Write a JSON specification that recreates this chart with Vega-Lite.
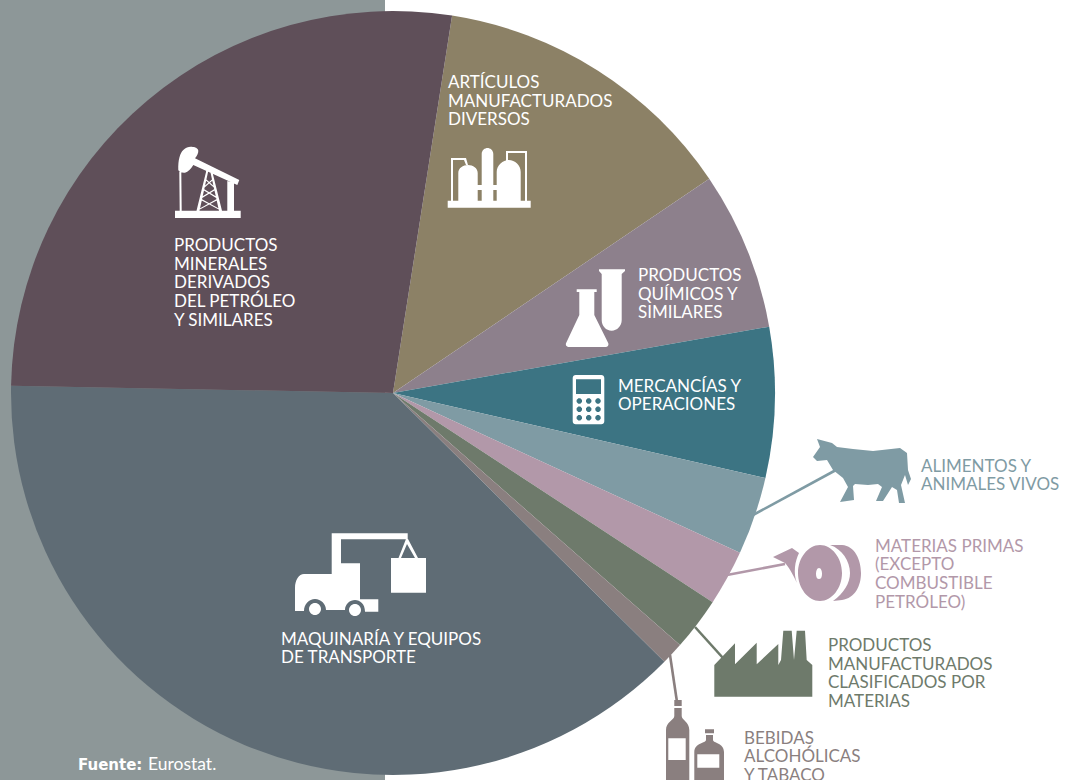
{"$schema":"https://vega.github.io/schema/vega-lite/v6.json","width":1065,"height":780,"autosize":"none","padding":0,"background":"white","config":{"view":{"stroke":null}},
"datasets":{
"panel":[{"x":0,"x2":385,"y":0,"y2":780}],
"slices":[
{"cat":"Artículos manufacturados diversos","share":13.05,"rank":1},
{"cat":"Productos químicos y similares","share":6.7,"rank":2},
{"cat":"Mercancías y operaciones","share":6.35,"rank":3},
{"cat":"Alimentos y animales vivos","share":3.3,"rank":4},
{"cat":"Materias primas","share":2.35,"rank":5},
{"cat":"Productos manufacturados","share":2.25,"rank":6},
{"cat":"Bebidas y tabaco","share":0.95,"rank":7},
{"cat":"Maquinaria y equipos de transporte","share":37.88,"rank":8},
{"cat":"Productos minerales","share":27.17,"rank":9}],
"leaders":[
{"cat":"Alimentos y animales vivos","x":753,"y":515,"x2":836,"y2":470},
{"cat":"Materias primas","x":727,"y":575,"x2":785,"y2":564},
{"cat":"Productos manufacturados","x":695,"y":627,"x2":723,"y2":658},
{"cat":"Bebidas y tabaco","x":670,"y":655,"x2":677,"y2":702}],
"insideLabels":[
{"label":"PRODUCTOS\nMINERALES\nDERIVADOS\nDEL PETRÓLEO\nY SIMILARES","x":174,"y":251},
{"label":"ARTÍCULOS\nMANUFACTURADOS\nDIVERSOS","x":448,"y":88},
{"label":"PRODUCTOS\nQUÍMICOS Y\nSIMILARES","x":638,"y":281},
{"label":"MERCANCÍAS Y\nOPERACIONES","x":618,"y":391.5},
{"label":"MAQUINARÍA Y EQUIPOS\nDE TRANSPORTE","x":281,"y":644.5}],
"outsideLabels":[
{"cat":"Alimentos y animales vivos","label":"ALIMENTOS Y\nANIMALES VIVOS","x":921,"y":471.5},
{"cat":"Materias primas","label":"MATERIAS PRIMAS\n(EXCEPTO\nCOMBUSTIBLE\nPETRÓLEO)","x":875,"y":551.5},
{"cat":"Productos manufacturados","label":"PRODUCTOS\nMANUFACTURADOS\nCLASIFICADOS POR\nMATERIAS","x":828,"y":651},
{"cat":"Bebidas y tabaco","label":"BEBIDAS\nALCOHÓLICAS\nY TABACO","x":744,"y":743.5}],
"insideIcons":[
{"icon":"pump","x":208,"y":180},
{"icon":"refinery","x":490,"y":180},
{"icon":"flask","x":595,"y":310},
{"icon":"calculator","x":589,"y":400},
{"icon":"truck","x":360,"y":580}],
"outsideIcons":[
{"icon":"cow","cat":"Alimentos y animales vivos","x":860,"y":475},
{"icon":"roll","cat":"Materias primas","x":820,"y":573},
{"icon":"factory","cat":"Productos manufacturados","x":763,"y":665},
{"icon":"bottleA","cat":"Bebidas y tabaco","x":678,"y":740},
{"icon":"bottleB","cat":"Bebidas y tabaco","x":709,"y":760}],
"sourceA":[{"label":"Fuente:","x":78,"y":770}],
"sourceB":[{"label":"Eurostat.","x":148,"y":770}]
},
"layer":[
{"data":{"name":"panel"},"mark":{"type":"rect","color":"#8d9798"},"encoding":{
"x":{"field":"x","type":"quantitative","axis":null,"scale":{"domain":[0,1065],"nice":false,"zero":false}},
"x2":{"field":"x2"},
"y":{"field":"y","type":"quantitative","axis":null,"scale":{"domain":[0,780],"nice":false,"zero":false,"reverse":true}},
"y2":{"field":"y2"}}},
{"data":{"name":"leaders"},"mark":{"type":"rule","strokeWidth":2.6},"encoding":{
"x":{"field":"x","type":"quantitative","axis":null,"scale":{"domain":[0,1065],"nice":false,"zero":false}},
"x2":{"field":"x2"},
"y":{"field":"y","type":"quantitative","axis":null,"scale":{"domain":[0,780],"nice":false,"zero":false,"reverse":true}},
"y2":{"field":"y2"},
"color":{"field":"cat","type":"nominal","legend":null,"scale":{"domain":["Artículos manufacturados diversos","Productos químicos y similares","Mercancías y operaciones","Alimentos y animales vivos","Materias primas","Productos manufacturados","Bebidas y tabaco","Maquinaria y equipos de transporte","Productos minerales"],"range":["#8c8166","#8d808c","#3c7483","#7f9ba4","#b298a9","#6e7a6b","#8a7f7f","#5f6c75","#5f4f59"]}}}},
{"data":{"name":"slices"},"mark":{"type":"arc","outerRadius":382,"innerRadius":0},"encoding":{
"x":{"datum":393,"type":"quantitative","axis":null,"scale":{"domain":[0,1065],"nice":false,"zero":false}},
"y":{"datum":393,"type":"quantitative","axis":null,"scale":{"domain":[0,780],"nice":false,"zero":false,"reverse":true}},
"theta":{"field":"share","type":"quantitative","stack":true,"scale":{"domain":[0,100],"range":[0.1553,6.4385]}},
"order":{"field":"rank","type":"quantitative"},
"color":{"field":"cat","type":"nominal","legend":null,"scale":{"domain":["Artículos manufacturados diversos","Productos químicos y similares","Mercancías y operaciones","Alimentos y animales vivos","Materias primas","Productos manufacturados","Bebidas y tabaco","Maquinaria y equipos de transporte","Productos minerales"],"range":["#8c8166","#8d808c","#3c7483","#7f9ba4","#b298a9","#6e7a6b","#8a7f7f","#5f6c75","#5f4f59"]}}}},
{"data":{"name":"insideIcons"},"mark":{"type":"point","filled":true,"size":4,"opacity":1,"color":"white"},"encoding":{
"x":{"field":"x","type":"quantitative","axis":null,"scale":{"domain":[0,1065],"nice":false,"zero":false}},
"y":{"field":"y","type":"quantitative","axis":null,"scale":{"domain":[0,780],"nice":false,"zero":false,"reverse":true}},
"shape":{"field":"icon","type":"nominal","legend":null,"scale":{"domain":["pump","refinery","flask","calculator","truck","cow","roll","factory","bottleA","bottleB"],"range":[
"M-33,30.7 L32.7,30.7 L32.7,38 L-33,38 Z M-29.7,-10 C-30,-20 -28,-27 -24.7,-30 C-22,-33 -19,-33.5 -16.3,-33.3 C-13,-33 -10,-32 -9.7,-29.3 C-9.5,-27 -11,-24 -13,-21.7 L31.3,0 L29.3,5 L-14.7,-15 C-17,-11 -20,-8 -23,-7.3 C-26,-7 -29,-8 -29.7,-10 Z M-28.7,-8 L-26.7,-8 L-26.3,31 L-28.3,31 Z M19.3,1 L26,3 L26,31 L19.3,31 Z M-1.5,-10 L0.5,-10 L-8.5,30.7 L-11.5,30.7 Z M1.9,-10 L3.9,-10 L14,30.7 L11,30.7 Z M-3.3,-2 L8.1,8 L8.1,9.4 L-3.3,-0.6 Z M-5.7,8 L5.7,-2 L5.7,-0.6 L-5.7,9.4 Z M-5.7,8 L10.6,18 L10.6,19.4 L-5.7,9.4 Z M-8.2,18 L8.1,8 L8.1,9.4 L-8.2,19.4 Z M-8.2,18 L13.5,30 L13.5,31 L-8.2,19.4 Z M-11,30 L10.6,18 L10.6,19.4 L-11,31 Z M-2,-10 L4.4,-10 L4.4,-8.5 L-2,-8.5 Z",
"M-42.3,20.7 L40.7,20.7 L40.7,27.7 L-42.3,27.7 Z M-31.7,21 L-31.7,-7 C-31.7,-12 -27,-15 -22,-15 C-17,-15 -12.3,-12 -12.3,-7 L-12.3,21 Z M-8.3,21 L-8.3,-26 C-8.3,-30 -5,-32 -2.5,-32 C0,-32 3.3,-30 3.3,-26 L3.3,21 Z M6.7,21 L6.7,-8 C6.7,-15 13,-20 18.7,-20 C25,-20 30.7,-15 30.7,-8 L30.7,21 Z M-13,5 L7,5 L7,10 L-13,10 Z M-39,21 L-39,-22 L-24,-22 L-22,-15 L-24,-15 L-26,-20 L-37,-20 L-37,21 Z M16,-19 L16,-29 L37,-29 L37,21 L35,21 L35,-27 L18,-27 L18,-19 Z",
"M-18.3,-20.7 L1.7,-20.7 L1.7,-18 L-0.7,-18 L-0.7,5 L13.3,33.3 C14,35.5 12.5,37 10.7,37 L-26,37 C-28,37 -29.7,35.5 -29,33.3 L-15.7,5 L-15.7,-18 L-18.3,-18 Z M4,-40.7 L30,-40.7 L30,-39 L26.7,-36 L26.7,10 C26.7,16 22,20.7 16.7,20.7 C11,20.7 6.7,16 6.7,10 L6.7,-36 L4,-39 Z",
"M-13.3,-25 L12.3,-25 C14,-25 15.3,-23.7 15.3,-22 L15.3,21.3 C15.3,23 14,24.3 12.3,24.3 L-13.3,24.3 C-15,24.3 -16.3,23 -16.3,21.3 L-16.3,-22 C-16.3,-23.7 -15,-25 -13.3,-25 Z M-13,-20.7 L-13,-6 L12,-6 L12,-20.7 Z M-10.7,-1.7 L-12.4,0 L-12.4,2 L-10.7,3.7 L-8.7,3.7 L-7,2 L-7,0 L-8.7,-1.7 Z M-1.3,-1.7 L-3,0 L-3,2 L-1.3,3.7 L0.7,3.7 L2.4,2 L2.4,0 L0.7,-1.7 Z M8,-1.7 L6.3,0 L6.3,2 L8,3.7 L10,3.7 L11.7,2 L11.7,0 L10,-1.7 Z M-10.7,6.6 L-12.4,8.3 L-12.4,10.3 L-10.7,12 L-8.7,12 L-7,10.3 L-7,8.3 L-8.7,6.6 Z M-1.3,6.6 L-3,8.3 L-3,10.3 L-1.3,12 L0.7,12 L2.4,10.3 L2.4,8.3 L0.7,6.6 Z M8,6.6 L6.3,8.3 L6.3,10.3 L8,12 L10,12 L11.7,10.3 L11.7,8.3 L10,6.6 Z M-10.7,15 L-12.4,16.7 L-12.4,18.7 L-10.7,20.4 L-8.7,20.4 L-7,18.7 L-7,16.7 L-8.7,15 Z M-1.3,15 L-3,16.7 L-3,18.7 L-1.3,20.4 L0.7,20.4 L2.4,18.7 L2.4,16.7 L0.7,15 Z M8,15 L6.3,16.7 L6.3,18.7 L8,20.4 L10,20.4 L11.7,18.7 L11.7,16.7 L10,15 Z",
"M-28.3,-46.7 L47.7,-46.7 L47.7,-40.7 L-19,-40.7 L-19,-16.7 L0,-16.7 L0,19.3 L18.3,19.3 L18.3,31.7 L5,31.7 C5,24 0,20 -5,20 C-10,20 -15,24 -15,30 L-34,30 C-34,24 -39,19 -45,19 C-51,19 -56,24 -56,31 L-65,31 L-65,8 C-65,0 -61,-6 -56,-6 L-28.3,-6 Z M-5,24 C-1.7,24 1,26.7 1,30 C1,33.3 -1.7,36 -5,36 C-8.3,36 -11,33.3 -11,30 C-11,26.7 -8.3,24 -5,24 Z M-45,23 C-41.7,23 -39,25.7 -39,29 C-39,32.3 -41.7,35 -45,35 C-48.3,35 -51,32.3 -51,29 C-51,25.7 -48.3,23 -45,23 Z M31,-22 L66,-22 L66,12.7 L31,12.7 Z M46,-41 L48,-41 L58,-22 L55,-22 L47,-36 L41,-22 L38.5,-22 Z",
"M-43,-36 L-28,-32 L-23,-28 L-7,-26 L13,-24 L40,-27 L47,-22 L48,-5 L51,4 L48,10 L45,0 L41,10 L45,28 L39,28 L37,15 L32,12 L23,26 L16,26 L22,12 L18,9 L8,10 L-5,9 L-7,11 L-6,25 L-20,27 L-12,12 L-17,3 L-27,-5 L-33,-15 L-43,-14 L-47,-18 L-40,-28 Z",
"M0,-28 C12,-28 22,-15 22,0 C22,15 12,28 0,28 C-12,28 -22,15 -22,0 C-22,-15 -12,-28 0,-28 Z M-1,-5 C-3,-5 -4,-2 -4,1 C-4,4 -3,6 -1,6 C1,6 2,4 2,1 C2,-2 1,-5 -1,-5 Z M10,-28 L22,-28 C35,-27 41,-13 41,0 C41,13 35,25 22,27 L13,28 C24,20 30,10 30,0 C30,-12 22,-24 10,-28 Z M-47,-16 L-28,-25 L-21,-20 C-25,-12 -27,0 -23,10 C-27,2 -31,-6 -35,-10 Z",
"M-48.7,31.7 L-48.7,0 L-28,-21.7 L-28,-0.7 L-6.3,-22.3 L-6.3,-0.7 L15.3,-21 L15.3,0 L18,-5 L20.3,-34.3 L28.7,-34.3 L31,-5 L33.7,-34.3 L42,-34.3 L43.7,-5 L49.3,0 L49.3,31.7 Z",
"M-3.7,-40 L3.7,-40 L3.7,-34 L-3.7,-34 Z M-3.7,-32 L3.7,-32 L3.7,-24 C3.7,-20 11.3,-18 11.3,-10 L11.3,42 L-12,42 L-12,-10 C-12,-18 -3.7,-20 -3.7,-24 Z M-9.7,-1.7 L-9.7,20 L7.7,20 L7.7,-1.7 Z",
"M-4,-30.7 L5,-30.7 L5,-26.7 L-4,-26.7 Z M-3,-25 L4,-25 L4,-20 C4,-17 15,-17 15,-8 L15,25 L-14.7,25 L-14.7,-8 C-14.7,-17 -3,-17 -3,-20 Z M-11.7,-5.7 L-11.7,7.7 L10.3,7.7 L10.3,-5.7 Z"
]}}}},
{"data":{"name":"outsideIcons"},"mark":{"type":"point","filled":true,"size":4,"opacity":1},"encoding":{
"x":{"field":"x","type":"quantitative","axis":null,"scale":{"domain":[0,1065],"nice":false,"zero":false}},
"y":{"field":"y","type":"quantitative","axis":null,"scale":{"domain":[0,780],"nice":false,"zero":false,"reverse":true}},
"color":{"field":"cat","type":"nominal","legend":null,"scale":{"domain":["Artículos manufacturados diversos","Productos químicos y similares","Mercancías y operaciones","Alimentos y animales vivos","Materias primas","Productos manufacturados","Bebidas y tabaco","Maquinaria y equipos de transporte","Productos minerales"],"range":["#8c8166","#8d808c","#3c7483","#7f9ba4","#b298a9","#6e7a6b","#8a7f7f","#5f6c75","#5f4f59"]}},
"shape":{"field":"icon","type":"nominal","legend":null}}},
{"data":{"name":"insideLabels"},"mark":{"type":"text","align":"left","baseline":"alphabetic","font":"Lato","fontSize":17,"lineHeight":18.7,"lineBreak":"\n","color":"white"},"encoding":{
"x":{"field":"x","type":"quantitative","axis":null,"scale":{"domain":[0,1065],"nice":false,"zero":false}},
"y":{"field":"y","type":"quantitative","axis":null,"scale":{"domain":[0,780],"nice":false,"zero":false,"reverse":true}},
"text":{"field":"label"}}},
{"data":{"name":"outsideLabels"},"mark":{"type":"text","align":"left","baseline":"alphabetic","font":"Lato","fontSize":17,"lineHeight":18.7,"lineBreak":"\n"},"encoding":{
"x":{"field":"x","type":"quantitative","axis":null,"scale":{"domain":[0,1065],"nice":false,"zero":false}},
"y":{"field":"y","type":"quantitative","axis":null,"scale":{"domain":[0,780],"nice":false,"zero":false,"reverse":true}},
"text":{"field":"label"},
"color":{"field":"cat","type":"nominal","legend":null,"scale":{"domain":["Artículos manufacturados diversos","Productos químicos y similares","Mercancías y operaciones","Alimentos y animales vivos","Materias primas","Productos manufacturados","Bebidas y tabaco","Maquinaria y equipos de transporte","Productos minerales"],"range":["#8c8166","#8d808c","#3c7483","#7f9ba4","#b298a9","#6e7a6b","#8a7f7f","#5f6c75","#5f4f59"]}}}},
{"data":{"name":"sourceA"},"mark":{"type":"text","align":"left","baseline":"alphabetic","font":"DejaVu Sans","fontSize":15,"fontWeight":"bold","color":"white"},"encoding":{
"x":{"field":"x","type":"quantitative","axis":null,"scale":{"domain":[0,1065],"nice":false,"zero":false}},
"y":{"field":"y","type":"quantitative","axis":null,"scale":{"domain":[0,780],"nice":false,"zero":false,"reverse":true}},
"text":{"field":"label"}}},
{"data":{"name":"sourceB"},"mark":{"type":"text","align":"left","baseline":"alphabetic","font":"Lato","fontSize":17.5,"color":"white"},"encoding":{
"x":{"field":"x","type":"quantitative","axis":null,"scale":{"domain":[0,1065],"nice":false,"zero":false}},
"y":{"field":"y","type":"quantitative","axis":null,"scale":{"domain":[0,780],"nice":false,"zero":false,"reverse":true}},
"text":{"field":"label"}}}
]}
